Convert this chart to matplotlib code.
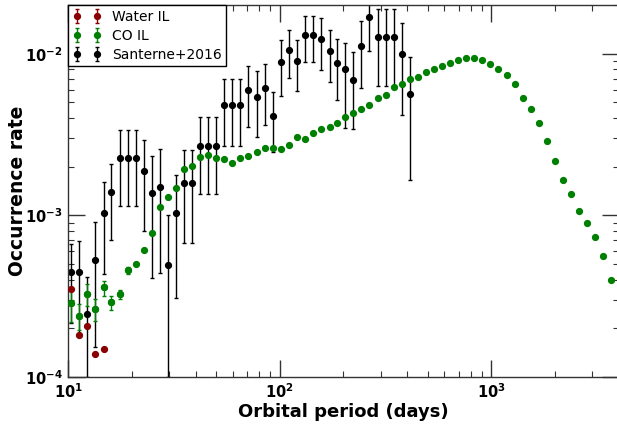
import numpy as np
import matplotlib
matplotlib.use("Agg")
import matplotlib.pyplot as plt

# ---- data ----
co_period = [10.3, 11.3, 12.3, 13.4, 14.7, 16.0, 17.5, 19.1, 20.9, 22.8,
             24.9, 27.1, 29.6, 32.4, 35.3, 38.5, 42.2, 46.0, 50.2, 54.7,
             59.7, 65.1, 71.1, 77.9, 85.0, 93.0, 101, 111, 121, 132,
             144, 157, 172, 187, 204, 223, 243, 265, 290, 317,
             346, 377, 413, 450, 491, 536, 587, 640, 698, 762,
             831, 907, 989, 1079, 1182, 1290, 1407, 1535, 1675, 1827,
             2000, 2182, 2381, 2597, 2842, 3101, 3383, 3691]
co_rate = [2.85e-4, 2.38e-4, 3.25e-4, 2.63e-4, 3.58e-4, 2.89e-4, 3.25e-4, 4.58e-4, 5.03e-4, 6.08e-4,
           7.74e-4, 1.125e-3, 1.29e-3, 1.48e-3, 1.94e-3, 2.01e-3, 2.30e-3, 2.37e-3, 2.27e-3, 2.24e-3,
           2.10e-3, 2.27e-3, 2.34e-3, 2.47e-3, 2.60e-3, 2.62e-3, 2.58e-3, 2.73e-3, 3.04e-3, 2.96e-3,
           3.24e-3, 3.44e-3, 3.54e-3, 3.75e-3, 4.08e-3, 4.31e-3, 4.56e-3, 4.78e-3, 5.28e-3, 5.58e-3,
           6.23e-3, 6.50e-3, 6.98e-3, 7.18e-3, 7.71e-3, 8.05e-3, 8.40e-3, 8.76e-3, 9.14e-3, 9.35e-3,
           9.45e-3, 9.14e-3, 8.59e-3, 8.08e-3, 7.42e-3, 6.50e-3, 5.30e-3, 4.53e-3, 3.73e-3, 2.89e-3,
           2.18e-3, 1.65e-3, 1.36e-3, 1.063e-3, 8.96e-4, 7.31e-4, 5.64e-4, 3.97e-4]
# error bars visible on the shortest-period CO IL bins only
co_err_period = [10.3, 11.3, 12.3, 13.4, 14.7, 16.0, 17.5, 19.1]
co_err_rate = [2.85e-4, 2.38e-4, 3.25e-4, 2.63e-4, 3.58e-4, 2.89e-4, 3.25e-4, 4.58e-4]
co_err_low = [2.19e-4, 1.95e-4, 2.74e-4, 2.23e-4, 3.18e-4, 2.59e-4, 3.02e-4, 4.32e-4]
co_err_high = [3.59e-4, 2.82e-4, 3.75e-4, 3.02e-4, 3.93e-4, 3.19e-4, 3.44e-4, 4.80e-4]

water_period = [10.3, 11.3, 12.3, 13.4, 14.7]
water_rate = [3.49e-4, 1.81e-4, 2.06e-4, 1.39e-4, 1.49e-4]
water_err = [0.0, 0.0, 0.0, 0.0, 0.0]

san_period = [10.3, 11.3, 12.3, 13.4, 14.7, 16.0, 17.5, 19.1, 20.9, 22.8,
              24.9, 27.1, 29.6, 32.4, 35.3, 38.5, 42.2, 46.0, 50.2, 54.7,
              59.7, 65.1, 71.1, 77.9, 85.0, 93.0, 101, 111, 121, 132,
              144, 157, 172, 187, 204, 223, 243, 265, 290, 317,
              346, 377, 413]
san_rate = [4.45e-4, 4.45e-4, 2.46e-4, 5.27e-4, 1.033e-3, 1.39e-3, 2.26e-3, 2.26e-3, 2.26e-3, 1.88e-3,
            1.38e-3, 1.50e-3, 4.96e-4, 1.039e-3, 1.59e-3, 1.59e-3, 2.69e-3, 2.69e-3, 2.69e-3, 4.84e-3,
            4.84e-3, 4.84e-3, 5.97e-3, 5.43e-3, 6.11e-3, 4.14e-3, 8.89e-3, 1.054e-2, 9.01e-3, 1.297e-2,
            1.297e-2, 1.226e-2, 1.039e-2, 8.76e-3, 8.05e-3, 6.84e-3, 1.11e-2, 1.675e-2, 1.261e-2, 1.261e-2,
            1.261e-2, 9.90e-3, 5.62e-3]
san_low = [2.15e-4, 1.88e-4, 1.0e-4, 1.54e-4, 4.34e-4, 7.01e-4, 1.137e-3, 1.137e-3, 1.137e-3, 7.96e-4,
           4.07e-4, 4.43e-4, 1.0e-4, 3.06e-4, 6.75e-4, 6.75e-4, 1.35e-3, 1.35e-3, 1.35e-3, 2.67e-3,
           2.67e-3, 2.67e-3, 3.53e-3, 3.03e-3, 3.61e-3, 2.45e-3, 5.51e-3, 7.04e-3, 5.85e-3, 8.93e-3,
           8.93e-3, 7.93e-3, 6.72e-3, 5.18e-3, 3.46e-3, 3.43e-3, 6.14e-3, 1.036e-2, 6.32e-3, 6.32e-3,
           6.32e-3, 4.18e-3, 1.644e-3]
san_high = [6.69e-4, 6.94e-4, 4.16e-4, 9.05e-4, 1.61e-3, 2.08e-3, 3.38e-3, 3.38e-3, 3.38e-3, 2.94e-3,
            2.34e-3, 2.58e-3, 1.0e-3, 1.77e-3, 2.52e-3, 2.52e-3, 4.03e-3, 4.03e-3, 4.03e-3, 6.98e-3,
            6.98e-3, 6.98e-3, 8.40e-3, 7.82e-3, 8.64e-3, 5.80e-3, 1.215e-2, 1.40e-2, 1.215e-2, 1.717e-2,
            1.717e-2, 1.661e-2, 1.40e-2, 1.232e-2, 1.164e-2, 1.029e-2, 1.599e-2, 2.3e-2, 1.888e-2, 1.888e-2,
            1.888e-2, 1.547e-2, 9.49e-3]

labels = ["Water IL", "CO IL", "Santerne+2016"]
colors = ["#8b0000", "#008000", "black"]

# ---- figure ----
fig = plt.figure(figsize=(6.17, 4.26), dpi=100)
ax = fig.add_axes([0.1104, 0.1150, 0.8924, 0.8733])
ax.set_xscale("log")
ax.set_yscale("log")

ms = 4.2
sr = np.array(san_rate)
h_san = ax.errorbar(san_period, san_rate,
                    yerr=[sr - np.array(san_low), np.array(san_high) - sr],
                    fmt="o", color=colors[2], ms=ms, lw=1, elinewidth=1,
                    capsize=1.6, capthick=1, zorder=2, label=labels[2])
cr = np.array(co_err_rate)
h_co = ax.errorbar(co_err_period, co_err_rate,
                   yerr=[cr - np.array(co_err_low), np.array(co_err_high) - cr],
                   fmt="o", color=colors[1], ms=ms, lw=1, elinewidth=1,
                   capsize=1.6, capthick=1, zorder=3, label=labels[1])
ax.plot(co_period, co_rate, "o", color=colors[1], ms=ms, zorder=3)
h_w = ax.errorbar(water_period, water_rate, yerr=water_err, fmt="o",
                  color=colors[0], ms=ms, lw=1, elinewidth=1,
                  capsize=1.6, capthick=1, zorder=4, label=labels[0])

ax.set_xlim(10, 4000)
ax.set_ylim(1e-4, 2e-2)

for sp in ax.spines.values():
    sp.set_linewidth(1.0)
    sp.set_color("#333333")
ax.tick_params(which="both", direction="in", top=True, right=True, colors="#333333")
ax.tick_params(which="major", length=12, width=1, labelsize=10.5, pad=4, labelcolor="black")
ax.tick_params(which="minor", length=4, width=0.8)
for lab in ax.get_xticklabels() + ax.get_yticklabels():
    lab.set_fontweight("bold")

ax.set_xlabel("Orbital period (days)", fontsize=13, fontweight="bold", labelpad=1)
ax.set_ylabel("Occurrence rate", fontsize=13.5, fontweight="bold", labelpad=-1.5)

leg = ax.legend([h_w, h_co, h_san], labels, loc="upper left", numpoints=2,
                fontsize=10, fancybox=False, borderaxespad=0.0, framealpha=1,
                edgecolor="black", labelspacing=0.35, borderpad=0.35,
                handletextpad=0.8)
leg.get_frame().set_linewidth(1.0)

fig.savefig("out.png", dpi=100)
